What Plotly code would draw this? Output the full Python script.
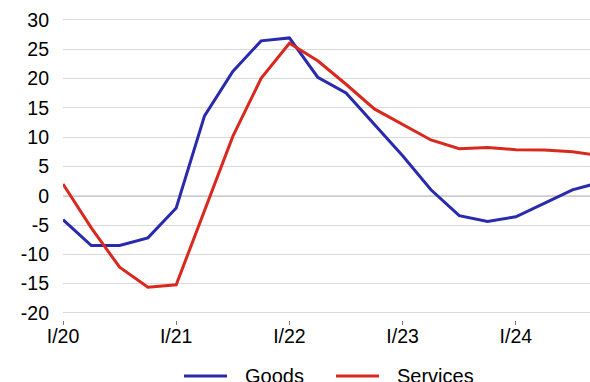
import plotly.graph_objects as go

# Quarterly series, Q1 2020 .. Q4 2024 (year-on-year change, %)
quarters = [f"{q}Q{y}" for y in range(2020, 2025) for q in range(1, 5)]
goods = [-4.1, -8.5, -8.5, -7.2, -2.1, 13.6, 21.2, 26.4, 26.9, 20.2,
         17.5, 12.1, 6.8, 1.0, -3.4, -4.4, -3.6, -1.3, 1.0, 2.3]
services = [2.0, -5.5, -12.2, -15.6, -15.2, -2.7, 10.1, 20.0, 26.0, 23.0,
            19.0, 14.8, 12.1, 9.5, 8.0, 8.2, 7.85, 7.8, 7.5, 6.8]
tick_labels = ["I/20", "I/21", "I/22", "I/23", "I/24"]
y_ticks = list(range(-20, 31, 5))
y_tick_text = [str(v) for v in y_ticks]  # plain hyphen for negatives

BLUE = "#2a2aad"
RED = "#d9281e"
FONT = "Liberation Sans, Arial, sans-serif"

x = list(range(len(quarters)))

fig = go.Figure()
fig.add_trace(go.Scatter(x=x, y=goods, mode="lines", name="Goods",
                         line=dict(color=BLUE, width=3), showlegend=False))
fig.add_trace(go.Scatter(x=x, y=services, mode="lines", name="Services",
                         line=dict(color=RED, width=3), showlegend=False))

# zero line
fig.add_hline(y=0, line=dict(color="#3a3a3a", width=1.2), layer="below")

# legend drawn below the plot
legend_items = [("Goods", BLUE, 0.2296, 0.3112, 0.3416),
                ("Services", RED, 0.5180, 0.5996, 0.6294)]
for name, color, x0, x1, xt in legend_items:
    fig.add_shape(type="line", xref="paper", yref="paper", x0=x0, x1=x1,
                  y0=-0.1856, y1=-0.1856, line=dict(color=color, width=3))
    fig.add_annotation(xref="paper", yref="paper", x=xt, y=-0.1856,
                       text=name, showarrow=False, xanchor="left",
                       yanchor="middle",
                       font=dict(family=FONT, size=20, color="#000"))

fig.update_layout(
    width=590, height=382,
    margin=dict(l=63, r=0, t=18, b=62),
    paper_bgcolor="white", plot_bgcolor="white",
    font=dict(family=FONT, size=19.5, color="#000"),
)
fig.update_xaxes(
    range=[0, 18.62], tickmode="array", tickvals=[0, 4, 8, 12, 16],
    ticktext=tick_labels, showgrid=False, zeroline=False, showline=False,
    ticks="outside", ticklen=4, tickwidth=1, tickcolor="#777777",
    ticklabelstandoff=-5, tickfont=dict(size=19.5),
)
fig.update_yaxes(
    range=[-21.2, 30.3], tickmode="array", tickvals=y_ticks,
    ticktext=y_tick_text,
    showgrid=True, gridcolor="#d9d9d9", gridwidth=1, zeroline=False,
    showline=False, ticks="", ticklabelstandoff=13,
    tickfont=dict(size=19.5),
)

fig.write_html("out.html")
